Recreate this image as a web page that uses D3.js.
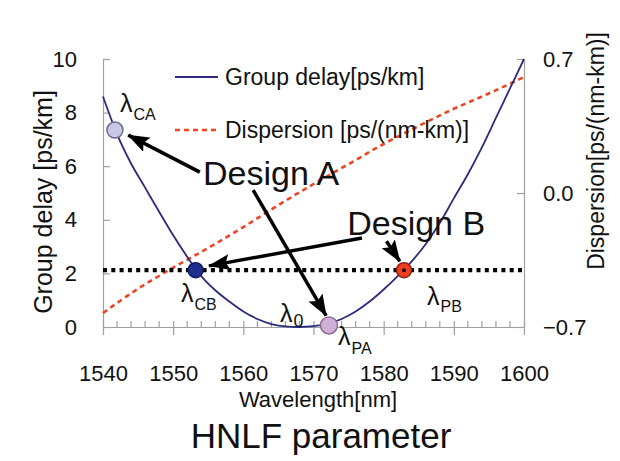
<!DOCTYPE html>
<html><head><meta charset="utf-8">
<script src="https://cdn.jsdelivr.net/npm/d3@7/dist/d3.min.js"></script>
<style>body{margin:0;background:#fff}svg{display:block}text{font-family:"Liberation Sans",Arial,sans-serif;fill:#111}</style>
</head><body><svg id="c" width="620" height="461"></svg>
<script>
// ---- data ----
const wavelengths = [1540,1542,1544,1546,1548,1550,1552,1554,1556,1558,1560,1562,1564,1566,1568,1570,1572,1574,1576,1578,1580,1582,1584,1586,1588,1590,1592,1594,1596,1598,1600];
const groupDelay  = [8.6,7.2,6.1,5.2,4.3,3.42,2.62,1.9,1.37,0.95,0.58,0.3,0.11,0.02,0.0,0.03,0.12,0.3,0.58,0.95,1.4,1.9,2.45,3.1,3.88,4.8,5.7,6.7,7.8,8.9,10.0];
const dispWl      = [1540,1545,1550,1555,1560,1565,1570,1575,1580,1585,1590,1595,1600];
const dispersion  = [-0.627,-0.50,-0.39,-0.287,-0.178,-0.063,0.047,0.151,0.256,0.35,0.44,0.52,0.606];
const xTicks = [1540,1550,1560,1570,1580,1590,1600];
const yLeftTicks = [0,2,4,6,8,10];
const yRightTicks = [-0.7,0.0,0.7];
const designLevel = 2.12;
const markerNames = ["CA","CB","PA","PB"];
const markerWl = [1541.7,1553.2,1572.2,1582.9];
const markerGd = [7.35,2.12,0.06,2.12];

// ---- layout ----
const svg = d3.select("#c");
const x = d3.scaleLinear([1540,1600],[103,524]);
const yL = d3.scaleLinear([0,10],[327,59]);
const yR = d3.scaleLinear([-0.7,0.7],[327,59]);
const axisCol = "#a0a0a0";
const font = '"Liberation Sans",Arial,sans-serif';

// axes
const gL = svg.append("g").attr("transform","translate(103,0)")
  .call(d3.axisLeft(yL).tickValues(yLeftTicks).tickSizeInner(-7).tickSizeOuter(0).tickPadding(26).tickFormat(d3.format("d")));
const gR = svg.append("g").attr("transform","translate(524,0)")
  .call(d3.axisRight(yR).tickValues(yRightTicks).tickSizeInner(-7).tickSizeOuter(0).tickPadding(19).tickFormat(d3.format(".1f")));
const gB = svg.append("g").attr("transform","translate(0,327)")
  .call(d3.axisBottom(x).tickValues(xTicks).tickSizeInner(8).tickSizeOuter(0).tickPadding(30).tickFormat(d3.format("d")));
[gL,gR,gB].forEach(g=>{
  g.select(".domain").attr("stroke",axisCol).attr("stroke-width",1.2);
  g.selectAll(".tick line").attr("stroke",axisCol).attr("stroke-width",1.2);
  g.selectAll(".tick text").attr("font-size",22).attr("font-family",font).attr("fill","#111");
});
gB.selectAll(".tick line").attr("y1",-6);
// minor x ticks
svg.append("g").selectAll("line").data(d3.range(1542,1600,2).filter(v=>v%10!==0)).join("line")
  .attr("x1",d=>x(d)).attr("x2",d=>x(d)).attr("y1",327).attr("y2",321)
  .attr("stroke",axisCol).attr("stroke-width",1.2);

// curves
const gdData = wavelengths.map((w,i)=>[w,groupDelay[i]]);
const dData = dispWl.map((w,i)=>[w,dispersion[i]]);
svg.append("path").datum(dData)
  .attr("d",d3.line().x(d=>x(d[0])).y(d=>yR(d[1])).curve(d3.curveMonotoneX))
  .attr("fill","none").attr("stroke","#ee4422").attr("stroke-width",2.6).attr("stroke-dasharray","5,4");
svg.append("path").datum(gdData)
  .attr("d",d3.line().x(d=>x(d[0])).y(d=>yL(d[1])).curve(d3.curveMonotoneX))
  .attr("fill","none").attr("stroke","#2b2b80").attr("stroke-width",1.8);

// dotted design level
svg.append("line").attr("x1",x(1540)).attr("x2",x(1600)).attr("y1",yL(designLevel)).attr("y2",yL(designLevel))
  .attr("stroke","#000").attr("stroke-width",4.2).attr("stroke-dasharray","4,4.3");

// arrows
const defs = svg.append("defs");
defs.append("marker").attr("id","ah").attr("markerUnits","userSpaceOnUse")
  .attr("viewBox","0 0 22 16").attr("refX",21).attr("refY",8).attr("markerWidth",22).attr("markerHeight",16).attr("orient","auto")
  .append("path").attr("d","M0,0 L22,8 L0,16 L4,8 Z").attr("fill","#000");
const arrows = [
  [[1553.8,5.78],[1543.6,7.16]],
  [[1561.4,5.11],[1571.8,0.42]],
  [[1576.9,3.32],[1555.1,2.28]],
  [[1580.4,3.2],[1582.3,2.45]]
];
svg.append("g").selectAll("line").data(arrows).join("line")
  .attr("x1",d=>x(d[0][0])).attr("y1",d=>yL(d[0][1])).attr("x2",d=>x(d[1][0])).attr("y2",d=>yL(d[1][1]))
  .attr("stroke","#000").attr("stroke-width",3.5).attr("marker-end","url(#ah)");

// markers
const mFill = {CA:"#c8c8e6",CB:"#1f2d8f",PA:"#cfb0d8",PB:"#ee4020"};
const mStroke = {CA:"#6a6a90",CB:"#141c60",PA:"#8a7090",PB:"#902010"};
const mR = {CA:8,CB:7.5,PA:8.5,PB:7.5};
markerNames.forEach((n,i)=>{
  svg.append("circle").attr("cx",x(markerWl[i])).attr("cy",yL(markerGd[i])).attr("r",mR[n])
    .attr("fill",mFill[n]).attr("stroke",mStroke[n]).attr("stroke-width",1.5);
  if(n==="PB") svg.append("circle").attr("cx",x(markerWl[i])).attr("cy",yL(markerGd[i])).attr("r",2).attr("fill","#200");
});

// lambda labels
const lam = [
  {sub:"CA",x:120,y:112,dy:8,fs:16},
  {sub:"CB",x:181,y:302,dy:8,fs:16},
  {sub:"0", x:280,y:322,dy:5,fs:18},
  {sub:"PA",x:338,y:345,dy:9,fs:16},
  {sub:"PB",x:427,y:305,dy:7,fs:16}
];
lam.forEach(l=>{
  const t = svg.append("text").attr("x",l.x).attr("y",l.y).attr("font-size",25);
  t.append("tspan").text("λ");
  t.append("tspan").attr("font-size",l.fs).attr("dy",l.dy).attr("dx",1).text(l.sub);
});

// design labels
svg.append("text").attr("x",x(1554.25)).attr("y",yL(5.3)).attr("font-size",34).text("Design A");
svg.append("text").attr("x",x(1574.8)).attr("y",yL(3.43)).attr("font-size",34).text("Design B");

// legend
svg.append("line").attr("x1",175).attr("x2",218).attr("y1",77).attr("y2",77).attr("stroke","#2b2b80").attr("stroke-width",2);
svg.append("text").attr("x",225).attr("y",85).attr("font-size",23).text("Group delay[ps/km]");
svg.append("line").attr("x1",175).attr("x2",218).attr("y1",130).attr("y2",130).attr("stroke","#ee4422").attr("stroke-width",2.6).attr("stroke-dasharray","5,4");
svg.append("text").attr("x",225).attr("y",138).attr("font-size",23).text("Dispersion [ps/(nm-km)]");

// axis titles
svg.append("text").attr("transform","translate(52,202) rotate(-90)").attr("text-anchor","middle").attr("font-size",25).text("Group delay [ps/km]");
svg.append("text").attr("transform","translate(604,151) rotate(-90)").attr("text-anchor","middle").attr("font-size",23).text("Dispersion[ps/(nm-km)]");
svg.append("text").attr("x",318).attr("y",407).attr("text-anchor","middle").attr("font-size",22).text("Wavelength[nm]");
svg.append("text").attr("x",321).attr("y",448).attr("text-anchor","middle").attr("font-size",35).text("HNLF parameter");
</script></body></html>
